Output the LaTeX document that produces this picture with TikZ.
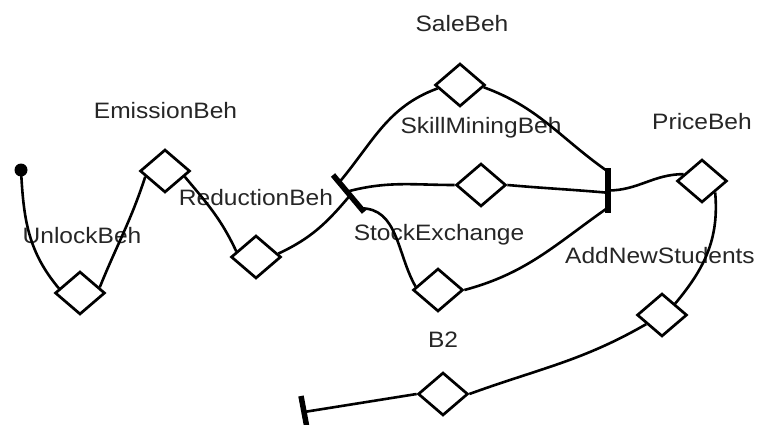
\documentclass[tikz,border=0pt]{standalone}
\usepackage{fontspec}
\setmainfont{Liberation Sans}[FakeStretch=1.1]
\usetikzlibrary{shapes.geometric,calc}
\pgfdeclarelayer{back}
\pgfdeclarelayer{lines}
\pgfsetlayers{back,lines,main}
\begin{document}
\begin{tikzpicture}[x=1pt,y=1pt,
  gate/.style={diamond,draw,line width=2.7pt,minimum width=50pt,minimum height=43pt,inner sep=0pt,fill=white},
  conn/.style={line width=2.6pt},
  barline/.style={line width=5.5pt},
  lbl/.style={anchor=base,inner sep=0pt,text=black!85,font=\fontsize{22.3}{26}\selectfont}]
\useasboundingbox (0,0) rectangle (760,-425);
\begin{pgfonlayer}{back}
\fill[white] (0,0) rectangle (760,-425);
\node[lbl] (lunlock) at (82,-243) {UnlockBeh};
\node[lbl] (lemission) at (165.5,-119) {EmissionBeh};
\node[lbl] (lreduction) at (256,-205) {ReductionBeh};
\node[lbl] (lsale) at (462,-32) {SaleBeh};
\node[lbl] (lskill) at (481,-133) {SkillMiningBeh};
\node[lbl] (lstock) at (439,-240) {StockExchange};
\node[lbl] (lb2) at (443,-347) {B2};
\node[lbl] (lprice) at (702,-130) {PriceBeh};
\node[lbl] (laddnew) at (660,-263) {AddNewStudents};
\end{pgfonlayer}

\node[gate] (unlock) at (80,-293) {};
\node[gate] (emission) at (165,-171) {};
\node[gate] (reduction) at (256,-257) {};
\node[gate] (sale) at (460,-85) {};
\node[gate] (skill) at (481,-185) {};
\node[gate] (b2) at (438,-290) {};
\node[gate] (price) at (702,-181) {};
\node[gate] (addnew) at (662,-315) {};
\node[gate] (bot) at (443,-394) {};
\node[circle,fill=black,inner sep=0pt,minimum size=13pt] (start) at (21,-170) {};

\coordinate (b1s) at (333,-175); \coordinate (b1e) at (364,-212);
\coordinate (b2s) at (608,-168); \coordinate (b2e) at (608,-213);
\coordinate (b3s) at (301,-396); \coordinate (b3e) at (307,-428);
\draw[barline] (b1s) -- (b1e);
\draw[barline] (b2s) -- (b2e);
\draw[barline] (b3s) -- (b3e);

\begin{pgfonlayer}{lines}
\draw[conn] (start.center) to[out=-87,in=130] ($(unlock.west)!0.2!(unlock.north)$);
\draw[conn] ($(unlock.east)!0.25!(unlock.north)$) to[out=68,in=-108] ($(emission.west)!0.25!(emission.south)$);
\draw[conn] ($(emission.east)!0.25!(emission.south)$) to[out=-50,in=115] ($(reduction.west)!0.25!(reduction.north)$);
\draw[conn] ($(reduction.east)!0.15!(reduction.north)$) to[out=25,in=-130] ($(b1s)!0.55!(b1e)$);
\draw[conn] ($(b1s)!0.2!(b1e)$) to[out=50,in=-160] ($(sale.west)!0.15!(sale.south)$);
\draw[conn] ($(b1s)!0.45!(b1e)$) to[out=15,in=180] (skill.west);
\draw[conn] ($(b1s)!0.9!(b1e)$) to[out=0,in=120] ($(b2.west)!0.15!(b2.north)$);
\draw[conn] ($(sale.east)!0.1!(sale.south)$) to[out=-20,in=145] ($(b2s)!0.08!(b2e)$);
\draw[conn] (skill.east) to[out=-5,in=175] ($(b2s)!0.55!(b2e)$);
\draw[conn] (b2.east) to[out=15,in=-145] ($(b2s)!0.88!(b2e)$);
\draw[conn] ($(b2s)!0.5!(b2e)$) to[out=0,in=180] ($(price.west)!0.3!(price.north)$);
\draw[conn] ($(price.east)!0.5!(price.south)$) to[out=-85,in=50] ($(addnew.north)!0.5!(addnew.east)$);
\draw[conn] (bot.east) to[out=20,in=-150] ($(addnew.west)!0.4!(addnew.south)$);
\draw[conn] (bot.west) -- ($(b3s)!0.5!(b3e)$);
\end{pgfonlayer}
\end{tikzpicture}
\end{document}
